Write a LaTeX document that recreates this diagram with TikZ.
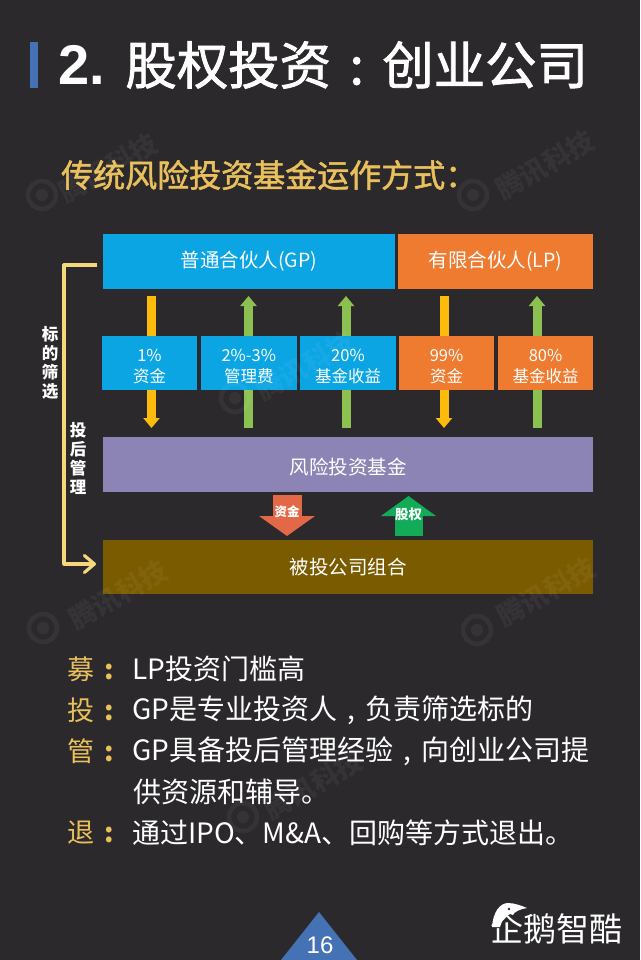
\documentclass[tikz,border=0pt]{standalone}
\usepackage{fontspec}
\setmainfont{Noto Sans CJK SC}
\newfontfamily\latinb{Liberation Sans}
\newfontfamily\medf[FakeBold=1.6]{Noto Sans CJK SC}
\usetikzlibrary{arrows.meta,calc}
\pgfdeclarelayer{back}
\pgfdeclarelayer{mid}
\pgfsetlayers{back,mid,main}
\definecolor{bgc}{HTML}{2B292C}
\definecolor{blueb}{HTML}{0BA5E4}
\definecolor{orangeb}{HTML}{EE7B30}
\definecolor{purpleb}{HTML}{8B84B4}
\definecolor{brownb}{HTML}{7A5B00}
\definecolor{yarrow}{HTML}{FDBB0C}
\definecolor{garrow}{HTML}{8CC152}
\definecolor{goldt}{HTML}{E9C05C}
\definecolor{bracketc}{HTML}{F6D77C}
\definecolor{barblue}{HTML}{4472B4}
\definecolor{wmark}{HTML}{FFFFFF}
\newcommand{\zc}{\makebox[28pt][c]{,}}
\newcommand{\kcolon}{\hspace{10pt}{\bfseries :}}
\newcommand{\liftS}{\rule{0pt}{19pt}}
\newcommand{\liftB}{\rule{0pt}{21pt}}
\tikzset{
  x=1pt,y=-1pt,
  boxn/.style={anchor=north west,inner sep=0pt,outer sep=0pt,text=white,align=center,font=\fontsize{19.5}{23}\selectfont},
  smalln/.style={boxn,font=\fontsize{16.5}{21}\selectfont},
  yup/.style={line width=9pt,draw=garrow,-{Triangle[length=10pt,width=16pt]}},
  ydown/.style={line width=9pt,draw=yarrow,-{Triangle[length=10pt,width=16pt]}},
  vlabel/.style={text=white,align=center,inner sep=0pt,font=\fontsize{16.5}{19}\selectfont\bfseries},
  bodyt/.style={anchor=west,inner sep=0pt,text=white,font=\fontsize{28}{32}\selectfont},
  bodyk/.style={anchor=west,inner sep=0pt,text=goldt,font=\fontsize{27}{32}\selectfont},
  wm/.style={text=wmark,opacity=0.05,rotate=30,inner sep=0pt,font=\fontsize{27}{30}\selectfont\bfseries},
  wmlogo/.style={draw=wmark,opacity=0.05,line width=4.5pt},
  wmdot/.style={fill=wmark,opacity=0.05},
}
\begin{document}
\begin{tikzpicture}
\useasboundingbox (0,0) rectangle (640,960);
\begin{pgfonlayer}{back}
\fill[bgc] (0,0) rectangle (640,960);
\end{pgfonlayer}
% title
\fill[barblue] (30,42) rectangle (38,88);
\node[anchor=west,inner sep=0pt,text=white,font=\medf\fontsize{51.4}{56}\selectfont] (title) at (58,65) {{\latinb\bfseries\fontsize{56}{56}\selectfont 2.}\hspace{20.5pt}股权投资\makebox[51.4pt][c]{:}创业公司};
\node[anchor=west,inner sep=0pt,text=goldt,font=\medf\fontsize{32}{36}\selectfont] (sub) at (61,175) {传统风险投资基金运作方式：};
% boxes
\node[boxn,fill=blueb,minimum width=292pt,minimum height=55pt] (gp) at (103,234) {普通合伙人(GP)};
\node[boxn,fill=orangeb,minimum width=195pt,minimum height=55pt] (lp) at (398,234) {有限合伙人(LP)};
\node[smalln,fill=blueb,minimum width=95pt,minimum height=54pt] (a1) at (102,336) {\liftS 1\%\\资金};
\node[smalln,fill=blueb,minimum width=95.5pt,minimum height=54pt] (a2) at (201,336) {\liftS 2\%-3\%\\管理费};
\node[smalln,fill=blueb,minimum width=96pt,minimum height=54pt] (a3) at (300,336) {\liftS 20\%\\基金收益};
\node[smalln,fill=orangeb,minimum width=95pt,minimum height=54pt] (a4) at (399,336) {\liftS 99\%\\资金};
\node[smalln,fill=orangeb,minimum width=95pt,minimum height=54pt] (a5) at (498,336) {\liftS 80\%\\基金收益};
\node[boxn,fill=purpleb,minimum width=490pt,minimum height=55pt] (fund) at (103,437) {\liftB 风险投资基金};
\node[boxn,fill=brownb,minimum width=490pt,minimum height=54pt] (port) at (103,540) {被投公司组合};
% flow arrows
\coordinate (c1) at (151.5,300);
\coordinate (c2) at (248.5,300);
\coordinate (c3) at (346,300);
\coordinate (c4) at (444,300);
\coordinate (c5) at (537,300);
\begin{pgfonlayer}{mid}
\draw[ydown,shorten <=7pt,shorten >=9pt] (c1 |- gp.south) -- (c1 |- fund.north);
\draw[yup,shorten <=9pt,shorten >=7pt] (c2 |- fund.north) -- (c2 |- gp.south);
\draw[yup,shorten <=9pt,shorten >=7pt] (c3 |- fund.north) -- (c3 |- gp.south);
\draw[ydown,shorten <=7pt,shorten >=9pt] (c4 |- gp.south) -- (c4 |- fund.north);
\draw[yup,shorten <=9pt,shorten >=7pt] (c5 |- fund.north) -- (c5 |- gp.south);
\end{pgfonlayer}
% block arrows between fund and portfolio
\coordinate (dn) at (287,516);
\coordinate (up) at (408.5,516);
\draw[line width=29pt,draw={rgb,255:red,226;green,104;blue,72},-{Triangle[length=20pt,width=55pt]},shorten <=3pt,shorten >=4pt] (dn |- fund.south) -- (dn |- port.north);
\draw[line width=28pt,draw={rgb,255:red,18;green,172;blue,88},-{Triangle[length=20pt,width=54pt]},shorten <=4pt,shorten >=4pt] (up |- port.north) -- (up |- fund.south);
\node[text=white,inner sep=0pt,font=\fontsize{12.5}{14}\selectfont\bfseries] (zj) at (287,512) {资金};
\node[text=white,inner sep=0pt,font=\fontsize{13.5}{14}\selectfont\bfseries] (gq) at (408.5,514) {股权};
% bracket
\coordinate (bs) at (97,265);
\coordinate (be) at (96,564);
\draw[bracketc,line width=3.2pt,line join=round,-{Straight Barb[length=10pt,width=17pt,round]}] (bs) -- (64,265) -- (64,564) -- (be);
\node[vlabel] (sel) at (50,363) {标\\的\\筛\\选};
\node[vlabel] (mgt) at (78,458) {投\\后\\管\\理};
% body
\node[bodyk] (k1) at (67,669) {募\kcolon};
\node[bodyt] (t1) at (132,669) {LP投资门槛高};
\node[bodyk] (k2) at (67,710) {投\kcolon};
\node[bodyt] (t2) at (132,710) {GP是专业投资人\zc 负责筛选标的};
\node[bodyk] (k3) at (67,751) {管\kcolon};
\node[bodyt] (t3) at (132,751) {GP具备投后管理经验\zc 向创业公司提};
\node[bodyt] (t3b) at (133,792) {供资源和辅导。};
\node[bodyk] (k4) at (67,833) {退\kcolon};
\node[bodyt] (t4) at (132,833) {通过IPO、M\&A、回购等方式退出。};
% page number
\fill[barblue] (319,912) -- (357,960) -- (281,960) -- cycle;
\node[text=white,inner sep=0pt,font=\latinb\fontsize{24}{26}\selectfont] (pn) at (320,945) {16};
% logo
\node[anchor=west,inner sep=0pt,text=white,font=\fontsize{33}{36}\selectfont] (logo) at (490,929) {企鹅智酷};
\fill[white] (492,927) .. controls (493,912) and (500,903) .. (508,903) .. controls (515,903) and (522,906) .. (527,908) .. controls (520,909) and (514,912) .. (513,915) .. controls (510,912) and (503,916) .. (500,927) -- cycle;
\fill[bgc] (509,909) circle (1.3);
% watermarks
\foreach \a/\b in {42/195,473/195,43/628,477/630,235/398,243/817}{
  \draw[wmlogo] (\a,\b) circle (14);
  \fill[wmdot] (\a,\b) circle (6);
}
\node[wm] (w1) at (108,168) {腾讯科技};
\node[wm] (w2) at (545,165) {腾讯科技};
\node[wm] (w3) at (118,595) {腾讯科技};
\node[wm] (w4) at (546,592) {腾讯科技};
\node[wm] (w5) at (313,785) {腾讯科技};
\node[wm] (w6) at (305,366) {腾讯科技};
\end{tikzpicture}
\end{document}
